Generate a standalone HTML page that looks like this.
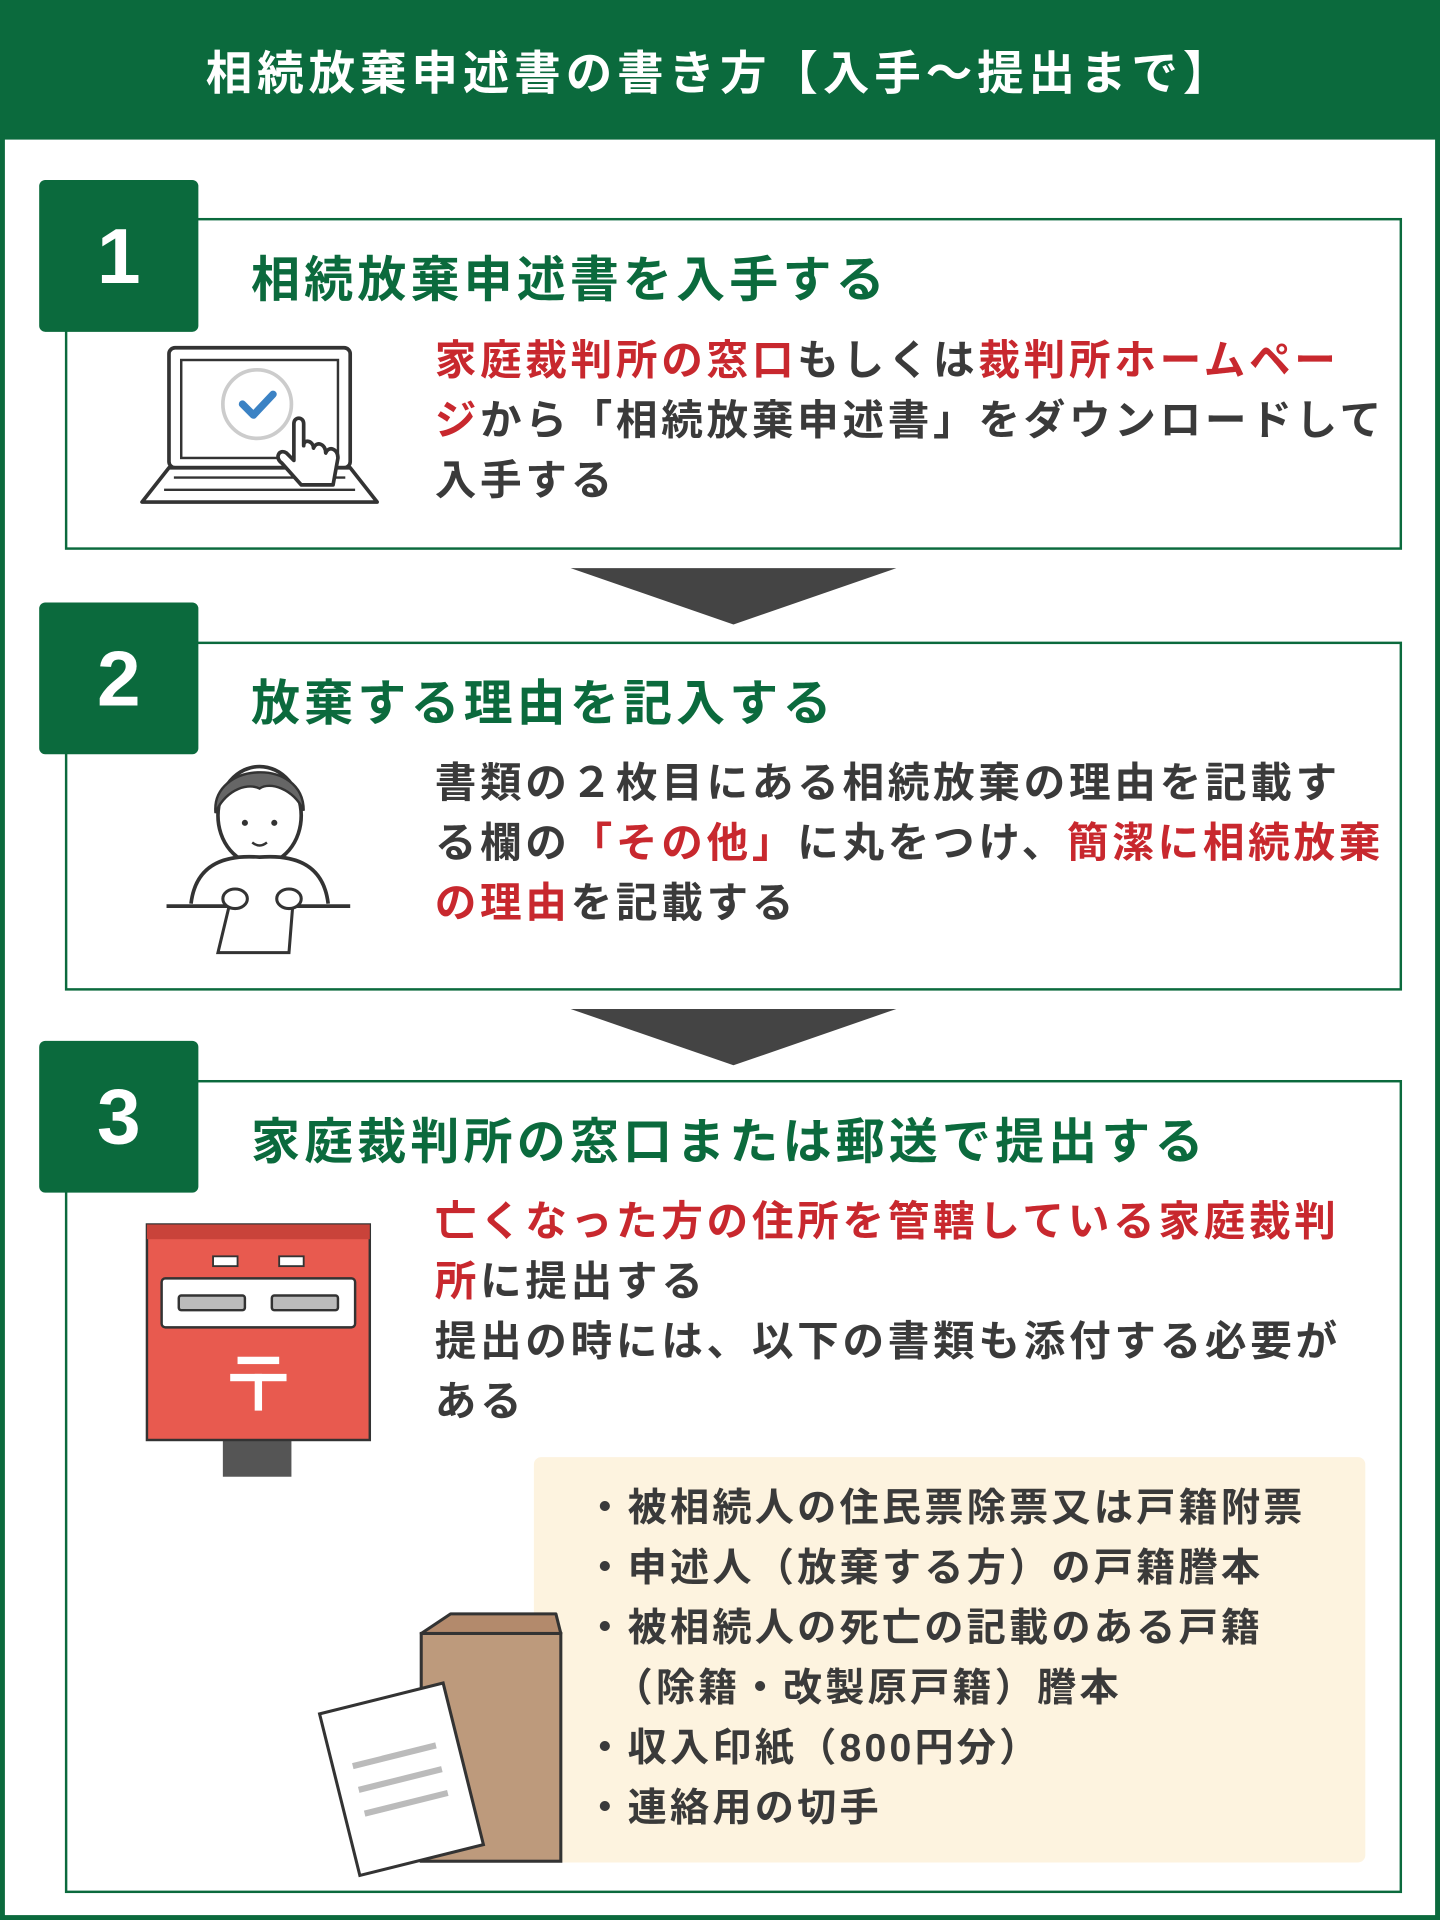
<!DOCTYPE html>
<html><head><meta charset="utf-8">
<style>
html,body{margin:0;padding:0;width:1440px;height:1920px;overflow:hidden;background:#fff;}
#s{position:absolute;left:0;top:0;width:1176px;height:1568px;transform:scale(1.2244898);transform-origin:0 0;font-family:"Liberation Sans","Noto Sans CJK JP",sans-serif;color:#333;}
.a{position:absolute;}
svg{overflow:visible;}
.g{background:#0b6a3d;}
.box{position:absolute;border:2.5px solid #0b6a3d;background:#fff;box-sizing:border-box;}
.badge{position:absolute;left:32px;width:130px;height:124px;background:#0b6a3d;border-radius:5px;color:#fff;font-weight:bold;font-size:64px;text-align:center;line-height:124px;font-family:"Liberation Sans",sans-serif;}
.ttl{position:absolute;left:205px;font-size:40px;font-weight:bold;color:#0b6a3d;letter-spacing:3.4px;white-space:nowrap;line-height:50px;}
.tx{position:absolute;left:355px;font-size:34px;font-weight:bold;letter-spacing:3px;line-height:49px;white-space:nowrap;color:#3a3a3a;}
.r{color:#c8282e;}
.tri{position:absolute;left:466px;width:0;height:0;border-left:133px solid transparent;border-right:133px solid transparent;border-top:46px solid #444;}
</style></head><body><div id="s">
<div class="a g" style="left:0;top:0;width:1176px;height:114px;"></div>
<div class="a" style="left:0;top:36px;width:1176px;text-align:center;color:#fff;font-size:38px;font-weight:bold;letter-spacing:4px;line-height:50px;white-space:nowrap;">相続放棄申述書の書き方【入手～提出まで】</div>
<div class="a" style="left:0;top:110px;width:1176px;height:1458px;border:4px solid #0b6a3d;border-top:none;box-sizing:border-box;"></div>

<!-- step1 -->
<div class="box" style="left:53px;top:178px;width:1092px;height:271px;"></div>
<div class="badge" style="top:147px;">1</div>
<div class="ttl" style="top:204px;">相続放棄申述書を入手する</div>
<div class="tx" style="top:271px;"><span class="r">家庭裁判所の窓口</span>もしくは<span class="r">裁判所ホームペー</span><br><span class="r">ジ</span>から「相続放棄申述書」をダウンロードして<br>入手する</div>
<svg class="a" style="left:112px;top:278px" width="200" height="140" viewBox="0 0 200 140">
<rect x="26" y="6" width="148" height="98" rx="5" fill="#fff" stroke="#333" stroke-width="3"/>
<rect x="36" y="16" width="128" height="80" fill="#fff" stroke="#333" stroke-width="2"/>
<path d="M26 104 L4 132 L196 132 L174 104 Z" fill="#fff" stroke="#333" stroke-width="3" stroke-linejoin="round"/>
<line x1="30" y1="112" x2="170" y2="112" stroke="#333" stroke-width="2"/>
<line x1="22" y1="122" x2="178" y2="122" stroke="#333" stroke-width="2"/>
<circle cx="98" cy="52" r="28" fill="#fff" stroke="#ccc" stroke-width="3"/>
<path d="M86 52 L95 61 L111 44" fill="none" stroke="#3b82c4" stroke-width="6" stroke-linecap="round" stroke-linejoin="round"/>
<path d="M128 68 L128 98 L122 92 C116 88 112 96 118 100 L134 118 L160 118 L164 96 C164 88 156 86 154 92 C154 84 146 82 144 88 C144 82 136 80 136 86 L136 68 C136 62 128 62 128 68 Z" fill="#fff" stroke="#333" stroke-width="3" stroke-linejoin="round"/>
</svg>
<div class="tri" style="top:464px;"></div>

<!-- step2 -->
<div class="box" style="left:53px;top:524px;width:1092px;height:285px;"></div>
<div class="badge" style="top:492px;">2</div>
<div class="ttl" style="top:550px;">放棄する理由を記入する</div>
<div class="tx" style="top:616px;">書類の２枚目にある相続放棄の理由を記載す<br>る欄の<span class="r">「その他」</span>に丸をつけ、<span class="r">簡潔に相続放棄</span><br><span class="r">の理由</span>を記載する</div>
<svg class="a" style="left:136px;top:608px" width="155" height="178" viewBox="0 0 155 178">
<ellipse cx="76" cy="58" rx="34" ry="40" fill="#fff" stroke="#333" stroke-width="3"/>
<path d="M40 56 C36 14 112 10 112 54 C104 36 84 30 76 36 C64 30 46 40 40 56 Z" fill="#666" stroke="#333" stroke-width="2"/>
<circle cx="64" cy="64" r="2.5" fill="#333"/><circle cx="88" cy="64" r="2.5" fill="#333"/>
<path d="M70 80 Q76 85 82 80" fill="none" stroke="#333" stroke-width="2"/>
<path d="M20 130 C24 96 50 90 76 92 C102 90 128 96 132 130" fill="#fff" stroke="#333" stroke-width="3"/>
<line x1="0" y1="132" x2="150" y2="132" stroke="#333" stroke-width="3"/>
<path d="M54 120 L42 170 L100 170 L104 120" fill="#fff" stroke="#333" stroke-width="2.5"/>
<ellipse cx="56" cy="126" rx="10" ry="8" fill="#fff" stroke="#333" stroke-width="2.5"/>
<ellipse cx="100" cy="126" rx="10" ry="8" fill="#fff" stroke="#333" stroke-width="2.5"/>
</svg>
<div class="tri" style="top:824px;"></div>

<!-- step3 -->
<div class="box" style="left:53px;top:882px;width:1092px;height:664px;"></div>
<div class="badge" style="top:850px;">3</div>
<div class="ttl" style="top:908px;">家庭裁判所の窓口または郵送で提出する</div>
<div class="tx" style="top:974px;"><span class="r">亡くなった方の住所を管轄している家庭裁判</span><br><span class="r">所</span>に提出する<br>提出の時には、以下の書類も添付する必要が<br>ある</div>
<svg class="a" style="left:118px;top:996px" width="186" height="212" viewBox="0 0 186 212">
<rect x="64" y="178" width="56" height="32" fill="#555"/>
<rect x="2" y="4" width="182" height="176" fill="#e85a4f" stroke="#333" stroke-width="2"/>
<rect x="2" y="4" width="182" height="12" fill="#c9433a"/>
<rect x="14" y="48" width="158" height="40" rx="3" fill="#fff" stroke="#333" stroke-width="2"/>
<rect x="28" y="62" width="54" height="12" rx="2" fill="#bbb" stroke="#333" stroke-width="2"/>
<rect x="104" y="62" width="54" height="12" rx="2" fill="#bbb" stroke="#333" stroke-width="2"/>
<rect x="56" y="30" width="20" height="8" fill="#fff" stroke="#333" stroke-width="1.5"/>
<rect x="110" y="30" width="20" height="8" fill="#fff" stroke="#333" stroke-width="1.5"/>
<rect x="76" y="112" width="34" height="6" fill="#fff"/>
<rect x="70" y="126" width="46" height="6" fill="#fff"/>
<rect x="90" y="126" width="6" height="30" fill="#fff"/>
</svg>
<div class="a" style="left:436px;top:1190px;width:679px;height:331px;background:#fdf3df;border-radius:6px;"></div>
<div class="a" style="left:478px;top:1207px;font-size:32px;font-weight:bold;letter-spacing:2.6px;line-height:49px;white-space:nowrap;color:#3a3a3a;">・被相続人の住民票除票又は戸籍附票<br>・申述人（放棄する方）の戸籍謄本<br>・被相続人の死亡の記載のある戸籍<br>&nbsp;&nbsp;（除籍・改製原戸籍）謄本<br>・収入印紙（800円分）<br>・連絡用の切手</div>
<svg class="a" style="left:258px;top:1314px" width="206" height="212" viewBox="0 0 206 212">
<path d="M86 20 L110 4 L196 4 L200 20 Z" fill="#b38a6c" stroke="#333" stroke-width="2.5" stroke-linejoin="round"/>
<rect x="86" y="20" width="114" height="186" fill="#bd9a7c" stroke="#333" stroke-width="2.5"/>
<g transform="rotate(-14 66 140)">
<rect x="18" y="72" width="104" height="136" fill="#fff" stroke="#333" stroke-width="2.5"/>
<line x1="34" y1="120" x2="104" y2="120" stroke="#bbb" stroke-width="5"/>
<line x1="34" y1="140" x2="104" y2="140" stroke="#bbb" stroke-width="5"/>
<line x1="34" y1="160" x2="104" y2="160" stroke="#bbb" stroke-width="5"/>
</g>
</svg>
</div></body></html>
